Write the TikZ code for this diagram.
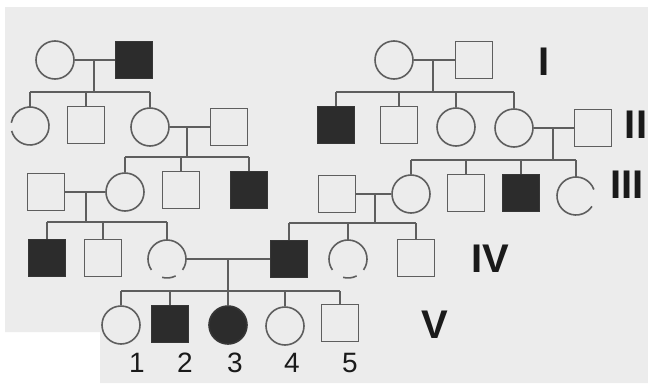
\documentclass[tikz,border=0pt]{standalone}
\usepackage{fontspec}
\setmainfont{Liberation Sans}
\definecolor{bgray}{HTML}{ECECEC}
\definecolor{lgray}{HTML}{5E5E5E}
\definecolor{dfill}{HTML}{2C2C2C}
\definecolor{tcol}{HTML}{1A1A1A}
\tikzset{
  shp/.style={draw=lgray, line width=1.6pt, inner sep=0pt},
  sq/.style={shp, rectangle, minimum size=37pt},
  sqf/.style={sq, fill=dfill, draw=dfill!80!lgray},
  ci/.style={shp, circle, minimum size=38pt},
  cif/.style={ci, fill=dfill, draw=dfill!80!lgray},
  cgap/.style={circle, minimum size=38pt, inner sep=0pt},
  arcline/.style={draw=lgray, line width=1.6pt},
  lnk/.style={draw=lgray, line width=1.4pt},
  gen/.style={text=tcol, inner sep=0pt, font=\fontsize{40}{40}\selectfont\bfseries},
  num/.style={text=tcol, inner sep=0pt, font=\fontsize{28}{28}\selectfont}
}
\begin{document}
\begin{tikzpicture}[x=1pt,y=-1pt]
\useasboundingbox (0,0) rectangle (648,383);
\fill[white] (0,0) rectangle (648,383);
\fill[bgray] (5,7) -- (648,7) -- (648,383) -- (100,383) -- (100,332) -- (5,332) -- cycle;

% ---------- left family ----------
% generation I
\node[ci]  (a1) at (55,60) {};
\node[sqf] (a2) at (134,60) {};
\draw[lnk] (a1.east) -- (a2.west);
\coordinate (am) at (94,60);
\coordinate (as) at (94,92);
\draw[lnk] (am) -- (as);
% generation II
\node[cgap] (b1) at (30,126) {};
\draw[arcline] ([shift={(-165:19pt)}]b1.center) arc[start angle=-165, end angle=170, radius=19pt];
\node[sq]  (b2) at (86,125) {};
\node[ci]  (b3) at (150,127) {};
\node[sq]  (b4) at (229,127) {};
\draw[lnk] (b1.north |- as) -- (b3.north |- as);
\draw[lnk] (b1.north |- as) -- (b1.north);
\draw[lnk] (b2.north |- as) -- (b2.north);
\draw[lnk] (b3.north |- as) -- (b3.north);
\draw[lnk] (b3.east) -- (b4.west);
\coordinate (bm) at (187,127);
\coordinate (bs) at (187,157);
\draw[lnk] (bm) -- (bs);
% generation III
\node[sq]  (c1) at (46,192) {};
\node[ci]  (c2) at (125,192) {};
\node[sq]  (c3) at (181,190) {};
\node[sqf] (c4) at (249,190) {};
\draw[lnk] (c2.north |- bs) -- (c4.north |- bs);
\draw[lnk] (c2.north |- bs) -- (c2.north);
\draw[lnk] (c3.north |- bs) -- (c3.north);
\draw[lnk] (c4.north |- bs) -- (c4.north);
\draw[lnk] (c1.east) -- (c2.west);
\coordinate (cm) at (86,192);
\coordinate (cs) at (86,222);
\draw[lnk] (cm) -- (cs);
% generation IV (left)
\node[sqf] (d1) at (47,258) {};
\node[sq]  (d2) at (103,258) {};
\node[cgap] (d3) at (167,259) {};
\draw[arcline] ([shift={(-35:19pt)}]d3.center) arc[start angle=-35, end angle=215, radius=19pt];
\draw[arcline] ([shift={(255:19pt)}]d3.center) arc[start angle=255, end angle=297, radius=19pt];
\draw[lnk] (d1.north |- cs) -- (d3.north |- cs);
\draw[lnk] (d1.north |- cs) -- (d1.north);
\draw[lnk] (d2.north |- cs) -- (d2.north);
\draw[lnk] (d3.north |- cs) -- (d3.north);

% ---------- right family ----------
% generation I
\node[ci]  (e1) at (394,60) {};
\node[sq]  (e2) at (474,60) {};
\draw[lnk] (e1.east) -- (e2.west);
\coordinate (em) at (433,60);
\coordinate (es) at (433,92);
\draw[lnk] (em) -- (es);
% generation II
\node[sqf] (f1) at (336,125) {};
\node[sq]  (f2) at (399,125) {};
\node[ci]  (f3) at (456,127) {};
\node[ci]  (f4) at (514,128) {};
\node[sq]  (f5) at (593,128) {};
\draw[lnk] (f1.north |- es) -- (f4.north |- es);
\draw[lnk] (f1.north |- es) -- (f1.north);
\draw[lnk] (f2.north |- es) -- (f2.north);
\draw[lnk] (f3.north |- es) -- (f3.north);
\draw[lnk] (f4.north |- es) -- (f4.north);
\draw[lnk] (f4.east) -- (f5.west);
\coordinate (fm) at (553,128);
\coordinate (fs) at (553,160);
\draw[lnk] (fm) -- (fs);
% generation III
\node[sq]  (g1) at (337,194) {};
\node[ci]  (g2) at (411,194) {};
\node[sq]  (g3) at (466,193) {};
\node[sqf] (g4) at (521,193) {};
\node[cgap] (g5) at (576,196) {};
\draw[arcline] ([shift={(20:19pt)}]g5.center) arc[start angle=20, end angle=327, radius=19pt];
\draw[lnk] (g2.north |- fs) -- (g5.north |- fs);
\draw[lnk] (g2.north |- fs) -- (g2.north);
\draw[lnk] (g3.north |- fs) -- (g3.north);
\draw[lnk] (g4.north |- fs) -- (g4.north);
\draw[lnk] (g5.north |- fs) -- (g5.north);
\draw[lnk] (g1.east) -- (g2.west);
\coordinate (gm) at (375,194);
\coordinate (gs) at (375,223);
\draw[lnk] (gm) -- (gs);
% generation IV (right)
\node[sqf] (h1) at (289,259) {};
\node[cgap] (h2) at (348,259) {};
\draw[arcline] ([shift={(-35:19pt)}]h2.center) arc[start angle=-35, end angle=215, radius=19pt];
\draw[arcline] ([shift={(255:19pt)}]h2.center) arc[start angle=255, end angle=297, radius=19pt];
\node[sq]  (h3) at (416,258) {};
\draw[lnk] (h1.north |- gs) -- (h3.north |- gs);
\draw[lnk] (h1.north |- gs) -- (h1.north);
\draw[lnk] (h2.north |- gs) -- (h2.north);
\draw[lnk] (h3.north |- gs) -- (h3.north);

% ---------- marriage of IV ----------
\draw[lnk] (d3.east) -- (h1.west);
\coordinate (dm) at (228,259);
\coordinate (ds) at (228,291);
\draw[lnk] (dm) -- (ds);
% generation V
\node[ci]  (v1) at (121,325) {};
\node[sqf] (v2) at (170,324) {};
\node[cif] (v3) at (228,325) {};
\node[ci]  (v4) at (285,326) {};
\node[sq]  (v5) at (340,323) {};
\draw[lnk] (v1.north |- ds) -- (v5.north |- ds);
\draw[lnk] (v1.north |- ds) -- (v1.north);
\draw[lnk] (v2.north |- ds) -- (v2.north);
\draw[lnk] (v3.north |- ds) -- (v3.north);
\draw[lnk] (v4.north |- ds) -- (v4.north);
\draw[lnk] (v5.north |- ds) -- (v5.north);

% numbers
\node[num] (n1) at (137,363) {1};
\node[num] (n2) at (185,363) {2};
\node[num] (n3) at (235,363) {3};
\node[num] (n4) at (292,363) {4};
\node[num] (n5) at (350,363) {5};

% generation labels
\node[gen] (r1) at (544,62) {I};
\node[gen] (r2) at (636,125) {II};
\node[gen] (r3) at (627,185) {III};
\node[gen] (r4) at (490,259) {IV};
\node[gen] (r5) at (435,325) {V};
\end{tikzpicture}
\end{document}
